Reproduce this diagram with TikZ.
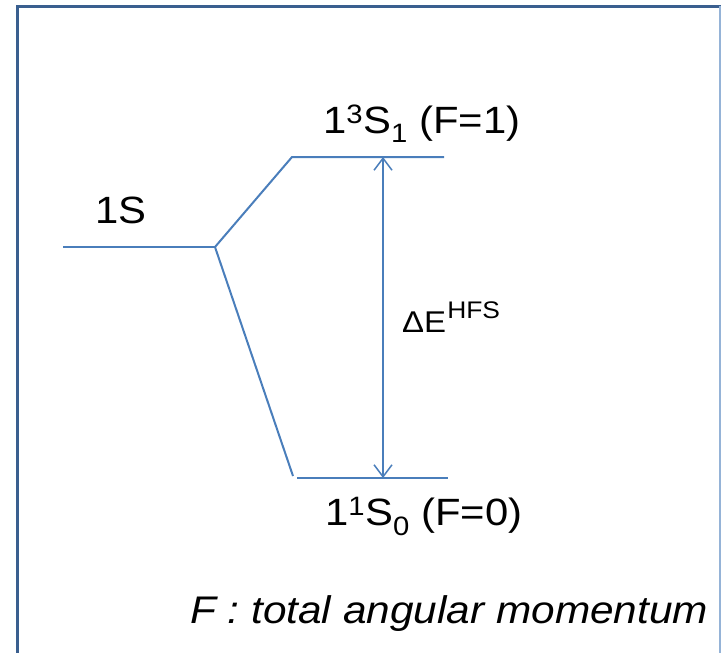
\documentclass[tikz,border=0pt]{standalone}
\usepackage{fontspec}
\setmainfont{Liberation Sans}[FakeStretch=1.1]
\usetikzlibrary{arrows.meta}
\definecolor{levelblue}{RGB}{74,126,187}
\definecolor{framedark}{RGB}{58,95,143}
\definecolor{framelight}{RGB}{149,179,215}
\newcommand{\supx}[1]{\textsuperscript{#1}}
\newcommand{\subx}[1]{\textsubscript{#1}}

\begin{document}
\begin{tikzpicture}[x=1pt, y=-1pt,
    level/.style={levelblue, line width=2pt},
    lbl/.style={anchor=base west, inner sep=0pt, font=\fontsize{38}{44}\selectfont},
    >={Straight Barb[length=12pt, width=18pt]},
]
    \useasboundingbox (0,0) rectangle (721,653);
    % frame
    \draw[framedark, line width=3pt] (17,660) -- (17,6) -- (721,6);
    \draw[framelight, line width=1.2pt] (720,6) -- (720,660);

    % level end points
    \coordinate (s-l) at (63,247);
    \coordinate (s-r) at (215,247);
    \coordinate (t-l) at (292,157);
    \coordinate (t-r) at (444,157);
    \coordinate (b-d) at (293,476);
    \coordinate (b-l) at (297,478);
    \coordinate (b-r) at (448,478);
    \coordinate (a-t) at (383,157);
    \coordinate (a-b) at (383,478);

    \draw[level] (s-l) -- (s-r);
    \draw[level] (s-r) -- (t-l) -- (t-r);
    \draw[level] (s-r) -- (b-d);
    \draw[level] (b-l) -- (b-r);
    \draw[levelblue, line width=1.5pt, <->] (a-b) -- (a-t);

    % labels
    \node[lbl] (n1S) at (95,223) {1S};
    \node[lbl] (nF1) at (323,133) {1\supx{3}S\subx{1} (F=1)};
    \node[lbl] (nF0) at (325,525) {1\supx{1}S\subx{0} (F=0)};
    \node[lbl, font=\fontsize{30}{36}\selectfont] (nHFS) at (402,332)
        {ΔE\kern1pt\raisebox{0.45em}{\fontsize{24}{28}\selectfont HFS}};
    \node[lbl, font=\fontsize{38.5}{44}\selectfont\itshape] (nNote) at (190,623) {F : total angular momentum};
\end{tikzpicture}
\end{document}
